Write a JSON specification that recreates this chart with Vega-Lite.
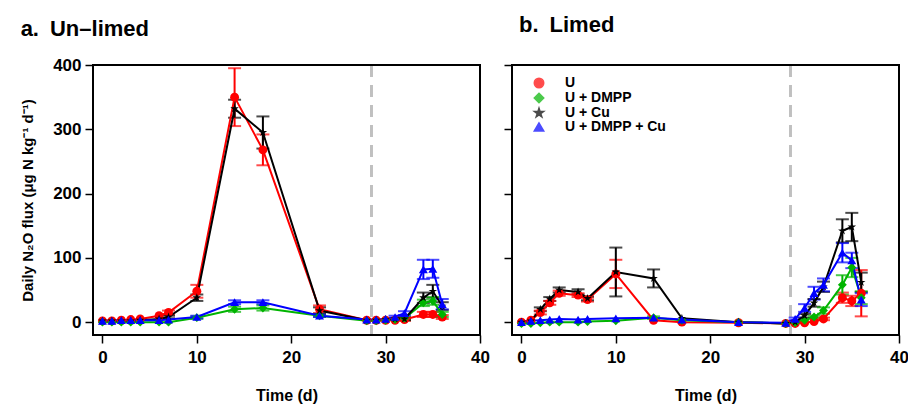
{
  "$schema": "https://vega.github.io/schema/vega-lite/v6.json",
  "background": "white",
  "padding": {"left": 20, "top": 13, "right": 5, "bottom": 2},
  "config": {
    "font": "Liberation Sans",
    "view": {"stroke": null},
    "axis": {
      "domain": false,
      "grid": false,
      "labelFont": "Liberation Sans",
      "labelFontWeight": "bold",
      "labelFontSize": 17,
      "labelColor": "black",
      "labelFlush": false,
      "titleFont": "Liberation Sans",
      "titleFontWeight": "bold",
      "titleFontSize": 15,
      "titleColor": "black",
      "tickColor": "black",
      "tickWidth": 1.5,
      "tickSize": 8
    },
    "title": {"font": "Liberation Sans", "fontWeight": "bold", "color": "black"}
  },
  "datasets": {
    "d": [
      {"panel": "a", "s": "U", "t": 0, "v": 2, "e": 0},
      {"panel": "a", "s": "U", "t": 1, "v": 2, "e": 0},
      {"panel": "a", "s": "U", "t": 2, "v": 3, "e": 0},
      {"panel": "a", "s": "U", "t": 3, "v": 4, "e": 0},
      {"panel": "a", "s": "U", "t": 4, "v": 5, "e": 0},
      {"panel": "a", "s": "U", "t": 6, "v": 10, "e": 0},
      {"panel": "a", "s": "U", "t": 7, "v": 15, "e": 3},
      {"panel": "a", "s": "U", "t": 10, "v": 48, "e": 10},
      {"panel": "a", "s": "U", "t": 14, "v": 350, "e": 45},
      {"panel": "a", "s": "U", "t": 17, "v": 268, "e": 24},
      {"panel": "a", "s": "U", "t": 23, "v": 20, "e": 6},
      {"panel": "a", "s": "U", "t": 28, "v": 3, "e": 0},
      {"panel": "a", "s": "U", "t": 29, "v": 3, "e": 0},
      {"panel": "a", "s": "U", "t": 30, "v": 3, "e": 0},
      {"panel": "a", "s": "U", "t": 31, "v": 3, "e": 0},
      {"panel": "a", "s": "U", "t": 32, "v": 4, "e": 2},
      {"panel": "a", "s": "U", "t": 34, "v": 12, "e": 4},
      {"panel": "a", "s": "U", "t": 35, "v": 12, "e": 4},
      {"panel": "a", "s": "U", "t": 36, "v": 8, "e": 3},
      {"panel": "a", "s": "U + DMPP", "t": 0, "v": 0, "e": 0},
      {"panel": "a", "s": "U + DMPP", "t": 1, "v": 0, "e": 0},
      {"panel": "a", "s": "U + DMPP", "t": 2, "v": 0, "e": 0},
      {"panel": "a", "s": "U + DMPP", "t": 3, "v": 0, "e": 0},
      {"panel": "a", "s": "U + DMPP", "t": 4, "v": 0, "e": 0},
      {"panel": "a", "s": "U + DMPP", "t": 6, "v": 0, "e": 0},
      {"panel": "a", "s": "U + DMPP", "t": 7, "v": 0, "e": 0},
      {"panel": "a", "s": "U + DMPP", "t": 10, "v": 7, "e": 2},
      {"panel": "a", "s": "U + DMPP", "t": 14, "v": 20, "e": 4},
      {"panel": "a", "s": "U + DMPP", "t": 17, "v": 22, "e": 4},
      {"panel": "a", "s": "U + DMPP", "t": 23, "v": 10, "e": 2},
      {"panel": "a", "s": "U + DMPP", "t": 28, "v": 2, "e": 0},
      {"panel": "a", "s": "U + DMPP", "t": 29, "v": 2, "e": 0},
      {"panel": "a", "s": "U + DMPP", "t": 30, "v": 3, "e": 0},
      {"panel": "a", "s": "U + DMPP", "t": 31, "v": 4, "e": 0},
      {"panel": "a", "s": "U + DMPP", "t": 32, "v": 6, "e": 2},
      {"panel": "a", "s": "U + DMPP", "t": 34, "v": 30, "e": 5},
      {"panel": "a", "s": "U + DMPP", "t": 35, "v": 33, "e": 6},
      {"panel": "a", "s": "U + DMPP", "t": 36, "v": 12, "e": 4},
      {"panel": "a", "s": "U + Cu", "t": 0, "v": 2, "e": 0},
      {"panel": "a", "s": "U + Cu", "t": 1, "v": 2, "e": 0},
      {"panel": "a", "s": "U + Cu", "t": 2, "v": 2, "e": 0},
      {"panel": "a", "s": "U + Cu", "t": 3, "v": 2, "e": 0},
      {"panel": "a", "s": "U + Cu", "t": 4, "v": 3, "e": 0},
      {"panel": "a", "s": "U + Cu", "t": 6, "v": 5, "e": 0},
      {"panel": "a", "s": "U + Cu", "t": 7, "v": 8, "e": 2},
      {"panel": "a", "s": "U + Cu", "t": 10, "v": 38, "e": 5},
      {"panel": "a", "s": "U + Cu", "t": 14, "v": 332, "e": 14},
      {"panel": "a", "s": "U + Cu", "t": 17, "v": 295, "e": 25},
      {"panel": "a", "s": "U + Cu", "t": 23, "v": 18, "e": 5},
      {"panel": "a", "s": "U + Cu", "t": 28, "v": 3, "e": 0},
      {"panel": "a", "s": "U + Cu", "t": 29, "v": 3, "e": 0},
      {"panel": "a", "s": "U + Cu", "t": 30, "v": 4, "e": 0},
      {"panel": "a", "s": "U + Cu", "t": 31, "v": 5, "e": 0},
      {"panel": "a", "s": "U + Cu", "t": 32, "v": 5, "e": 2},
      {"panel": "a", "s": "U + Cu", "t": 34, "v": 38, "e": 8},
      {"panel": "a", "s": "U + Cu", "t": 35, "v": 48, "e": 10},
      {"panel": "a", "s": "U + Cu", "t": 36, "v": 25, "e": 6},
      {"panel": "a", "s": "U + DMPP + Cu", "t": 0, "v": 2, "e": 0},
      {"panel": "a", "s": "U + DMPP + Cu", "t": 1, "v": 2, "e": 0},
      {"panel": "a", "s": "U + DMPP + Cu", "t": 2, "v": 3, "e": 0},
      {"panel": "a", "s": "U + DMPP + Cu", "t": 3, "v": 3, "e": 0},
      {"panel": "a", "s": "U + DMPP + Cu", "t": 4, "v": 3, "e": 0},
      {"panel": "a", "s": "U + DMPP + Cu", "t": 6, "v": 3, "e": 0},
      {"panel": "a", "s": "U + DMPP + Cu", "t": 7, "v": 4, "e": 0},
      {"panel": "a", "s": "U + DMPP + Cu", "t": 10, "v": 8, "e": 2},
      {"panel": "a", "s": "U + DMPP + Cu", "t": 14, "v": 31, "e": 3},
      {"panel": "a", "s": "U + DMPP + Cu", "t": 17, "v": 31, "e": 3},
      {"panel": "a", "s": "U + DMPP + Cu", "t": 23, "v": 10, "e": 2},
      {"panel": "a", "s": "U + DMPP + Cu", "t": 28, "v": 4, "e": 0},
      {"panel": "a", "s": "U + DMPP + Cu", "t": 29, "v": 4, "e": 0},
      {"panel": "a", "s": "U + DMPP + Cu", "t": 30, "v": 5, "e": 0},
      {"panel": "a", "s": "U + DMPP + Cu", "t": 31, "v": 8, "e": 2},
      {"panel": "a", "s": "U + DMPP + Cu", "t": 32, "v": 14, "e": 3},
      {"panel": "a", "s": "U + DMPP + Cu", "t": 34, "v": 82, "e": 15},
      {"panel": "a", "s": "U + DMPP + Cu", "t": 35, "v": 83, "e": 14},
      {"panel": "a", "s": "U + DMPP + Cu", "t": 36, "v": 28, "e": 8},
      {"panel": "b", "s": "U", "t": 0, "v": 0, "e": 0},
      {"panel": "b", "s": "U", "t": 1, "v": 3, "e": 0},
      {"panel": "b", "s": "U", "t": 2, "v": 15, "e": 3},
      {"panel": "b", "s": "U", "t": 3, "v": 30, "e": 3},
      {"panel": "b", "s": "U", "t": 4, "v": 45, "e": 4},
      {"panel": "b", "s": "U", "t": 6, "v": 42, "e": 3},
      {"panel": "b", "s": "U", "t": 7, "v": 35, "e": 3},
      {"panel": "b", "s": "U", "t": 10, "v": 75, "e": 22},
      {"panel": "b", "s": "U", "t": 14, "v": 3, "e": 0},
      {"panel": "b", "s": "U", "t": 17, "v": 0, "e": 0},
      {"panel": "b", "s": "U", "t": 23, "v": -1, "e": 0},
      {"panel": "b", "s": "U", "t": 28, "v": -2, "e": 0},
      {"panel": "b", "s": "U", "t": 29, "v": -2, "e": 0},
      {"panel": "b", "s": "U", "t": 30, "v": -1, "e": 0},
      {"panel": "b", "s": "U", "t": 31, "v": 1, "e": 0},
      {"panel": "b", "s": "U", "t": 32, "v": 5, "e": 2},
      {"panel": "b", "s": "U", "t": 34, "v": 38, "e": 8},
      {"panel": "b", "s": "U", "t": 35, "v": 33, "e": 8},
      {"panel": "b", "s": "U", "t": 36, "v": 45, "e": 36},
      {"panel": "b", "s": "U + DMPP", "t": 0, "v": -2, "e": 0},
      {"panel": "b", "s": "U + DMPP", "t": 1, "v": -2, "e": 0},
      {"panel": "b", "s": "U + DMPP", "t": 2, "v": -1, "e": 0},
      {"panel": "b", "s": "U + DMPP", "t": 3, "v": 0, "e": 0},
      {"panel": "b", "s": "U + DMPP", "t": 4, "v": 0, "e": 0},
      {"panel": "b", "s": "U + DMPP", "t": 6, "v": 0, "e": 0},
      {"panel": "b", "s": "U + DMPP", "t": 7, "v": 1, "e": 0},
      {"panel": "b", "s": "U + DMPP", "t": 10, "v": 2, "e": 0},
      {"panel": "b", "s": "U + DMPP", "t": 14, "v": 7, "e": 2},
      {"panel": "b", "s": "U + DMPP", "t": 17, "v": 3, "e": 0},
      {"panel": "b", "s": "U + DMPP", "t": 23, "v": 0, "e": 0},
      {"panel": "b", "s": "U + DMPP", "t": 28, "v": -2, "e": 0},
      {"panel": "b", "s": "U + DMPP", "t": 29, "v": -1, "e": 0},
      {"panel": "b", "s": "U + DMPP", "t": 30, "v": 3, "e": 0},
      {"panel": "b", "s": "U + DMPP", "t": 31, "v": 8, "e": 2},
      {"panel": "b", "s": "U + DMPP", "t": 32, "v": 18, "e": 5},
      {"panel": "b", "s": "U + DMPP", "t": 34, "v": 58, "e": 15},
      {"panel": "b", "s": "U + DMPP", "t": 35, "v": 85, "e": 15},
      {"panel": "b", "s": "U + DMPP", "t": 36, "v": 38, "e": 10},
      {"panel": "b", "s": "U + Cu", "t": 0, "v": 0, "e": 0},
      {"panel": "b", "s": "U + Cu", "t": 1, "v": 2, "e": 0},
      {"panel": "b", "s": "U + Cu", "t": 2, "v": 20, "e": 3},
      {"panel": "b", "s": "U + Cu", "t": 3, "v": 36, "e": 3},
      {"panel": "b", "s": "U + Cu", "t": 4, "v": 50, "e": 4},
      {"panel": "b", "s": "U + Cu", "t": 6, "v": 47, "e": 4},
      {"panel": "b", "s": "U + Cu", "t": 7, "v": 37, "e": 3},
      {"panel": "b", "s": "U + Cu", "t": 10, "v": 78, "e": 38},
      {"panel": "b", "s": "U + Cu", "t": 14, "v": 68, "e": 14},
      {"panel": "b", "s": "U + Cu", "t": 17, "v": 6, "e": 0},
      {"panel": "b", "s": "U + Cu", "t": 23, "v": 0, "e": 0},
      {"panel": "b", "s": "U + Cu", "t": 28, "v": -2, "e": 0},
      {"panel": "b", "s": "U + Cu", "t": 29, "v": 0, "e": 0},
      {"panel": "b", "s": "U + Cu", "t": 30, "v": 10, "e": 3},
      {"panel": "b", "s": "U + Cu", "t": 31, "v": 30, "e": 6},
      {"panel": "b", "s": "U + Cu", "t": 32, "v": 55, "e": 8},
      {"panel": "b", "s": "U + Cu", "t": 34, "v": 142, "e": 18},
      {"panel": "b", "s": "U + Cu", "t": 35, "v": 148, "e": 22},
      {"panel": "b", "s": "U + Cu", "t": 36, "v": 62, "e": 15},
      {"panel": "b", "s": "U + DMPP + Cu", "t": 0, "v": 0, "e": 0},
      {"panel": "b", "s": "U + DMPP + Cu", "t": 1, "v": 2, "e": 0},
      {"panel": "b", "s": "U + DMPP + Cu", "t": 2, "v": 3, "e": 0},
      {"panel": "b", "s": "U + DMPP + Cu", "t": 3, "v": 4, "e": 0},
      {"panel": "b", "s": "U + DMPP + Cu", "t": 4, "v": 5, "e": 0},
      {"panel": "b", "s": "U + DMPP + Cu", "t": 6, "v": 4, "e": 0},
      {"panel": "b", "s": "U + DMPP + Cu", "t": 7, "v": 5, "e": 0},
      {"panel": "b", "s": "U + DMPP + Cu", "t": 10, "v": 6, "e": 0},
      {"panel": "b", "s": "U + DMPP + Cu", "t": 14, "v": 7, "e": 0},
      {"panel": "b", "s": "U + DMPP + Cu", "t": 17, "v": 4, "e": 0},
      {"panel": "b", "s": "U + DMPP + Cu", "t": 23, "v": 0, "e": 0},
      {"panel": "b", "s": "U + DMPP + Cu", "t": 28, "v": -1, "e": 0},
      {"panel": "b", "s": "U + DMPP + Cu", "t": 29, "v": 5, "e": 2},
      {"panel": "b", "s": "U + DMPP + Cu", "t": 30, "v": 22, "e": 6},
      {"panel": "b", "s": "U + DMPP + Cu", "t": 31, "v": 45, "e": 10},
      {"panel": "b", "s": "U + DMPP + Cu", "t": 32, "v": 58, "e": 10},
      {"panel": "b", "s": "U + DMPP + Cu", "t": 34, "v": 108, "e": 15},
      {"panel": "b", "s": "U + DMPP + Cu", "t": 35, "v": 96, "e": 12},
      {"panel": "b", "s": "U + DMPP + Cu", "t": 36, "v": 35, "e": 10}
    ]
  },
  "spacing": 13,
  "resolve": {"scale": {"color": "independent", "shape": "independent"}},
  "hconcat": [
    {
      "width": 387,
      "height": 270,
      "title": {"text": "a.\u2002Un–limed", "anchor": "start", "frame": "bounds", "fontSize": 22, "offset": 15},
      "data": {"name": "d"},
      "transform": [{"filter": "datum.panel === 'a'"}],
      "encoding": {
        "x": {"field": "t", "type": "quantitative", "scale": {"domain": [-1, 40], "nice": false, "zero": false}, "axis": {"values": [0, 10, 20, 30, 40], "title": "Time (d)", "titleFontSize": 16, "labelPadding": 6, "titlePadding": 22}},
        "y": {"field": "v", "type": "quantitative", "scale": {"domain": [-20, 400], "nice": false, "zero": false}, "axis": {"values": [0, 100, 200, 300, 400], "title": "Daily N₂O flux (μg N kg⁻¹ d⁻¹)", "titlePadding": 17, "labelPadding": 4}},
        "color": {"field": "s", "type": "nominal", "scale": {"domain": ["U", "U + DMPP", "U + Cu", "U + DMPP + Cu"], "range": ["#FF0000", "#00B400", "#000000", "#0000FF"]}, "legend": null}
      },
      "layer": [
        {"mark": {"type": "rule", "color": "#C0C0C0", "strokeWidth": 2.5, "strokeDash": [12, 8]}, "encoding": {"x": {"datum": 28.5, "type": "quantitative"}, "y": null, "color": null}},
        {"transform": [{"filter": "datum.e > 0"}], "mark": {"type": "errorbar", "ticks": {"size": 13, "thickness": 2}, "thickness": 2}, "encoding": {"yError": {"field": "e"}}},
        {"mark": {"type": "line", "strokeWidth": 2}, "encoding": {"detail": {"field": "s"}}},
        {"mark": {"type": "point", "filled": true, "opacity": 1, "size": 80}, "encoding": {"shape": {"field": "s", "type": "nominal", "scale": {"domain": ["U", "U + DMPP", "U + Cu", "U + DMPP + Cu"], "range": ["circle", "diamond", "M0,-1L0.2245,-0.309L0.951,-0.309L0.363,0.118L0.588,0.809L0,0.382L-0.588,0.809L-0.363,0.118L-0.951,-0.309L-0.2245,-0.309Z", "triangle-up"]}, "legend": null}}},
        {"mark": {"type": "rect", "filled": false, "stroke": "black", "strokeWidth": 2}, "encoding": {"x": {"datum": -1, "type": "quantitative"}, "x2": {"datum": 40}, "y": {"datum": -20, "type": "quantitative"}, "y2": {"datum": 400}, "color": null}}
      ]
    },
    {
      "width": 387,
      "height": 270,
      "title": {"text": "b.\u2002Limed", "anchor": "start", "frame": "group", "fontSize": 22, "offset": 27, "dx": 7},
      "data": {"name": "d"},
      "transform": [{"filter": "datum.panel === 'b'"}],
      "encoding": {
        "x": {"field": "t", "type": "quantitative", "scale": {"domain": [-1, 40], "nice": false, "zero": false}, "axis": {"values": [0, 10, 20, 30, 40], "title": "Time (d)", "titleFontSize": 16, "labelPadding": 6, "titlePadding": 22}},
        "y": {"field": "v", "type": "quantitative", "scale": {"domain": [-20, 400], "nice": false, "zero": false}, "axis": {"values": [0, 100, 200, 300, 400], "title": null, "labels": false}},
        "color": {"field": "s", "type": "nominal", "scale": {"domain": ["U", "U + DMPP", "U + Cu", "U + DMPP + Cu"], "range": ["#FF0000", "#00B400", "#000000", "#0000FF"]},
          "legend": {
            "orient": "none", "legendX": 20, "legendY": 11, "padding": 0,
            "title": null, "labelFontSize": 14, "labelFontWeight": "bold", "labelColor": "black", "labelFont": "Liberation Sans",
            "symbolSize": 90, "rowPadding": -1, "labelOffset": 19
          }
        }
      },
      "layer": [
        {"mark": {"type": "rule", "color": "#C0C0C0", "strokeWidth": 2.5, "strokeDash": [12, 8]}, "encoding": {"x": {"datum": 28.5, "type": "quantitative"}, "y": null, "color": null}},
        {"transform": [{"filter": "datum.e > 0"}], "mark": {"type": "errorbar", "ticks": {"size": 13, "thickness": 2}, "thickness": 2}, "encoding": {"yError": {"field": "e"}}},
        {"mark": {"type": "line", "strokeWidth": 2}, "encoding": {"detail": {"field": "s"}}},
        {"mark": {"type": "point", "filled": true, "opacity": 1, "size": 80}, "encoding": {"shape": {"field": "s", "type": "nominal", "scale": {"domain": ["U", "U + DMPP", "U + Cu", "U + DMPP + Cu"], "range": ["circle", "diamond", "M0,-1L0.2245,-0.309L0.951,-0.309L0.363,0.118L0.588,0.809L0,0.382L-0.588,0.809L-0.363,0.118L-0.951,-0.309L-0.2245,-0.309Z", "triangle-up"]}, "legend": null}}},
        {"mark": {"type": "rect", "filled": false, "stroke": "black", "strokeWidth": 2}, "encoding": {"x": {"datum": -1, "type": "quantitative"}, "x2": {"datum": 40}, "y": {"datum": -20, "type": "quantitative"}, "y2": {"datum": 400}, "color": null}}
      ]
    }
  ]
}
